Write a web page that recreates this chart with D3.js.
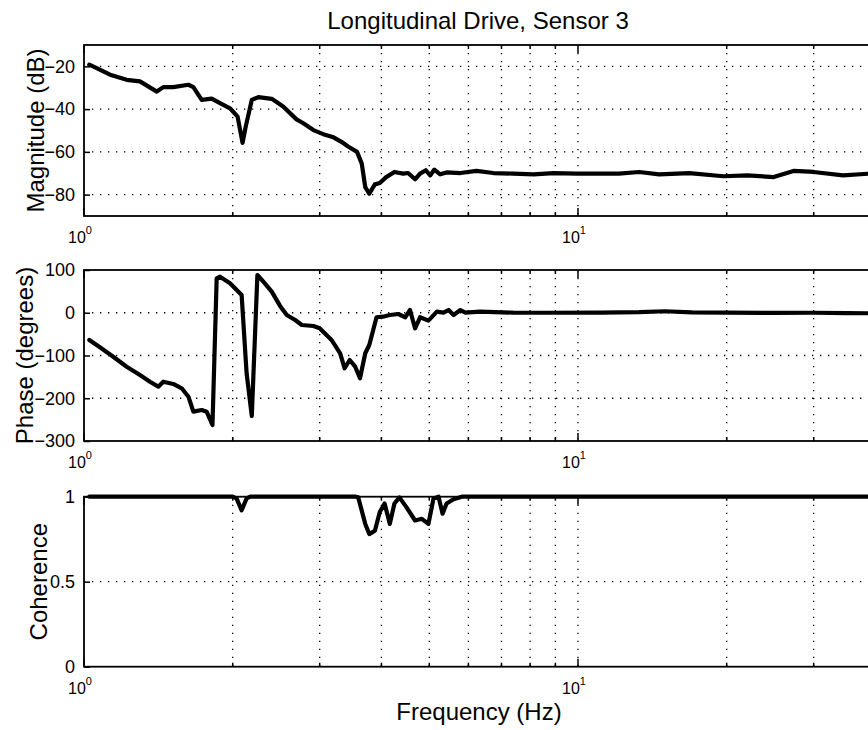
<!DOCTYPE html>
<html>
<head>
<meta charset="utf-8">
<script src="https://cdn.jsdelivr.net/npm/d3@7"></script>
<style>
  body { margin: 0; background: #fff; }
  .svg-frame { width: 868px; height: 730px; overflow: hidden; }
  text { font-family: "Liberation Sans", Arial, Helvetica, sans-serif; fill: #000; }
</style>
</head>
<body>
<div class="svg-frame"></div>
<script>
// frequency (Hz), magnitude (dB)
const magnitude = [
  [1.025, -19.2], [1.061, -20.8], [1.129, -23.9], [1.22, -26.3], [1.298, -27], [1.404, -31.8],
  [1.447, -29.7], [1.516, -29.7], [1.627, -28.6], [1.665, -29.7], [1.731, -35.7], [1.813, -35.1],
  [1.885, -37.2], [1.975, -39.6], [2.046, -43.5], [2.094, -55.8], [2.125, -48.2], [2.186, -35.7],
  [2.254, -34.4], [2.399, -35.2], [2.53, -38.8], [2.693, -44.8], [2.78, -46.6], [2.913, -49.8],
  [3.05, -51.7], [3.2, -53.2], [3.32, -55.3], [3.43, -57.6], [3.57, -60], [3.65, -65.5],
  [3.71, -76.5], [3.78, -79.6], [3.88, -75.2], [3.97, -74.6], [4.09, -71.8], [4.25, -69.4],
  [4.43, -70.2], [4.53, -69.9], [4.68, -72.8], [4.79, -70.2], [4.92, -68.6], [5.02, -71],
  [5.12, -68.3], [5.26, -70.5], [5.42, -69.6], [5.78, -69.9], [6.23, -68.9], [6.74, -69.9],
  [7.39, -70.2], [8.13, -70.5], [8.92, -69.9], [9.94, -70.2], [11.1, -70.2], [12.1, -70.2],
  [13.3, -69.4], [14.6, -70.5], [16.8, -69.9], [19.7, -71.4], [22.0, -71], [24.9, -71.8],
  [27.3, -68.9], [30.0, -69.4], [34.4, -71], [40, -70]
]
// frequency (Hz), phase (degrees)
const phase = [
  [1.025, -63.7], [1.077, -80.9], [1.146, -102.8], [1.22, -126.2], [1.298, -145.6], [1.36, -161.3],
  [1.414, -172.9], [1.447, -161.3], [1.516, -166.6], [1.577, -176.7], [1.627, -196.4], [1.665, -231.4],
  [1.731, -227.5], [1.771, -231.4], [1.82, -262.5], [1.856, 80.6], [1.885, 84.3], [1.975, 68.9],
  [2.085, 41.5], [2.134, -141.6], [2.186, -241.5], [2.244, 88.3], [2.307, 72.7], [2.399, 49.3],
  [2.494, 16], [2.573, -5.2], [2.676, -17], [2.76, -28.6], [2.913, -31], [3.0, -36.4],
  [3.17, -63.7], [3.3, -94.8], [3.37, -129.9], [3.45, -110.5], [3.54, -126.2], [3.62, -153.3],
  [3.71, -94.8], [3.78, -75.4], [3.85, -40.3], [3.91, -10.6], [4.03, -9.2], [4.16, -5.3],
  [4.33, -2.9], [4.47, -10.6], [4.57, 6.4], [4.68, -36.4], [4.79, -10.6], [4.98, -18.5],
  [5.18, 2.5], [5.34, 0.2], [5.47, 6.4], [5.6, -5.3], [5.78, 6.4], [5.92, 0.2],
  [6.33, 2.5], [7.39, 0.2], [8.65, 0], [11.1, 0.5], [13.3, 1.5], [15, 3.5],
  [17, 1], [20, 0.5], [25, -0.5], [30, 0], [35, -1], [40, -1.3]
]
// frequency (Hz), coherence
const coherence = [
  [1.025, 1], [2.0, 1], [2.036, 0.99], [2.085, 0.92], [2.134, 0.99], [2.17, 1],
  [3.55, 1], [3.59, 0.996], [3.71, 0.84], [3.78, 0.78], [3.88, 0.80], [3.97, 0.91],
  [4.06, 0.96], [4.16, 0.84], [4.25, 0.96], [4.35, 0.996], [4.49, 0.94], [4.68, 0.86],
  [4.83, 0.87], [4.98, 0.84], [5.10, 0.99], [5.22, 1.0], [5.32, 0.90], [5.42, 0.96],
  [5.6, 0.985], [5.82, 1.0], [40, 1]
]

const magTicks = [-20, -40, -60, -80]
const phaseTicks = [100, 0, -100, -200, -300]
const cohTicks = [1, 0.5, 0]
const majorFreqs = [1, 10]
const minorFreqs = [2, 3, 4, 5, 6, 7, 8, 9, 20, 30]
const decadeLabels = [[1, "0"], [10, "1"]]

function drawViz() {
  const svg = d3.select(".svg-frame")
    .append("svg")
    .attr("width", 868)
    .attr("height", 730)

  const xScale = d3.scaleLog([1, 40], [84, 875.4])

  const panels = [
    { data: magnitude, domain: [-90, -10], top: 45, bottom: 216, ticks: magTicks, label: "Magnitude (dB)", labelX: 44 },
    { data: phase, domain: [-300, 100], top: 270, bottom: 441, ticks: phaseTicks, label: "Phase (degrees)", labelX: 33 },
    { data: coherence, domain: [0, 1], top: 496.7, bottom: 666.7, ticks: cohTicks, label: "Coherence", labelX: 47 }
  ]

  svg.append("text")
    .attr("x", 478)
    .attr("y", 29)
    .attr("text-anchor", "middle")
    .style("font-size", "24px")
    .text("Longitudinal Drive, Sensor 3")

  panels.forEach(p => {
    const yScale = d3.scaleLinear(p.domain, [p.bottom, p.top])
    const g = svg.append("g")
    const [x0, x1] = xScale.range()

    //grid
    g.selectAll("line.vgrid")
      .data(minorFreqs.concat([10]))
      .join("line")
        .attr("class", "vgrid")
        .attr("x1", d => xScale(d)).attr("x2", d => xScale(d))
        .attr("y1", p.top).attr("y2", p.bottom)
        .attr("stroke", "#000")
        .attr("stroke-width", 1.3)
        .attr("stroke-dasharray", "1.3,6.7")
    g.selectAll("line.hgrid")
      .data(p.ticks.filter(t => t !== p.domain[0] && t !== p.domain[1]))
      .join("line")
        .attr("class", "hgrid")
        .attr("x1", x0).attr("x2", x1)
        .attr("y1", d => yScale(d)).attr("y2", d => yScale(d))
        .attr("stroke", "#000")
        .attr("stroke-width", 1.3)
        .attr("stroke-dasharray", "1.3,6.7")

    //x ticks, inside top and bottom
    const xt = majorFreqs.map(f => ({ f, len: 8 })).concat(minorFreqs.map(f => ({ f, len: 4 })))
    g.selectAll("line.xtick-b")
      .data(xt)
      .join("line")
        .attr("class", "xtick-b")
        .attr("x1", d => xScale(d.f)).attr("x2", d => xScale(d.f))
        .attr("y1", p.bottom).attr("y2", d => p.bottom - d.len)
        .attr("stroke", "#000").attr("stroke-width", 1.5)
    g.selectAll("line.xtick-t")
      .data(xt)
      .join("line")
        .attr("class", "xtick-t")
        .attr("x1", d => xScale(d.f)).attr("x2", d => xScale(d.f))
        .attr("y1", p.top).attr("y2", d => p.top + d.len)
        .attr("stroke", "#000").attr("stroke-width", 1.5)

    //y axis
    const yAxis = d3.axisLeft(yScale)
      .tickValues(p.ticks)
      .tickSize(-6)
      .tickPadding(9)
      .tickFormat(d => d3.format("")(d).replace("-", "\u2212"))
    const ag = g.append("g")
      .attr("transform", `translate(${x0},0)`)
      .call(yAxis)
    ag.select(".domain").remove()
    ag.selectAll(".tick line").attr("stroke", "#000").attr("stroke-width", 1.5)
    ag.selectAll(".tick text")
      .attr("fill", "#000")
      .style("font-size", "18px")
      .style("font-family", '"Liberation Sans", Arial, sans-serif')

    //decade labels
    const dl = g.selectAll("text.decade")
      .data(decadeLabels)
      .join("text")
        .attr("class", "decade")
        .attr("x", d => xScale(d[0]) - 4)
        .attr("y", p.bottom + 27)
        .attr("text-anchor", "middle")
        .style("font-size", "16px")
    dl.append("tspan").text("10")
    dl.append("tspan")
      .attr("dy", -9)
      .style("font-size", "11px")
      .text(d => d[1])

    //box
    g.append("rect")
      .attr("x", x0).attr("y", p.top)
      .attr("width", x1 - x0).attr("height", p.bottom - p.top)
      .attr("fill", "none")
      .attr("stroke", "#000")
      .attr("stroke-width", 1.8)

    //data
    const line = d3.line()
      .x(d => xScale(d[0]))
      .y(d => yScale(d[1]))
    g.append("path")
      .datum(p.data)
      .attr("d", line)
      .attr("fill", "none")
      .attr("stroke", "#000")
      .attr("stroke-width", 4.2)
      .attr("stroke-linejoin", "round")
      .attr("stroke-linecap", "round")

    //y label
    svg.append("text")
      .attr("transform", `translate(${p.labelX},${(p.top + p.bottom) / 2}) rotate(-90)`)
      .attr("text-anchor", "middle")
      .style("font-size", "24px")
      .text(p.label)
  })

  svg.append("text")
    .attr("x", 479)
    .attr("y", 720)
    .attr("text-anchor", "middle")
    .style("font-size", "24px")
    .text("Frequency (Hz)")
}

drawViz()
</script>
</body>
</html>
